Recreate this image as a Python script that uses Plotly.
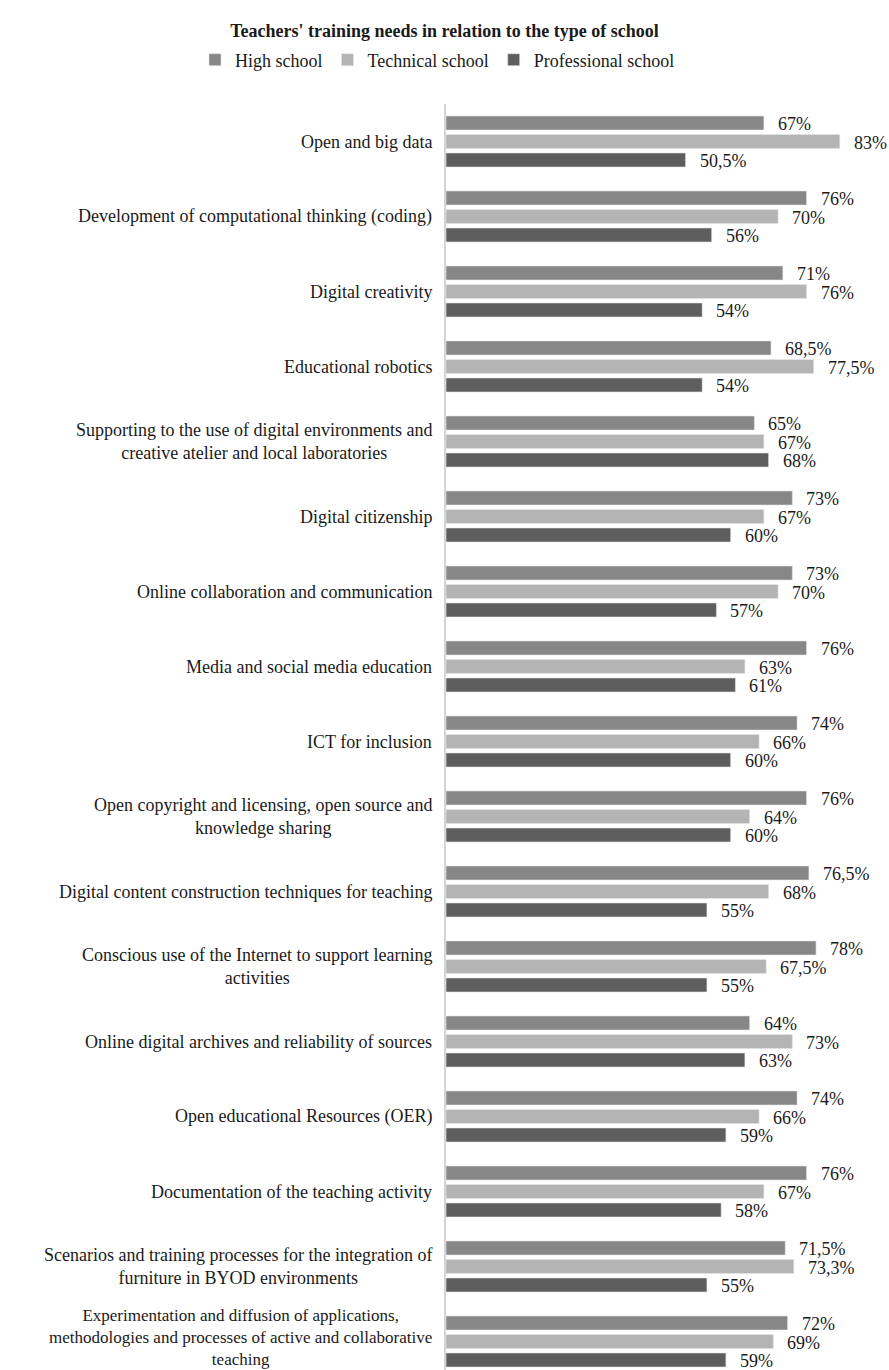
import plotly.graph_objects as go

# Training topics (top to bottom)
categories = [
    "Open and big data",
    "Development of computational thinking (coding)",
    "Digital creativity",
    "Educational robotics",
    "Supporting to the use of digital environments and<br>creative atelier and local laboratories",
    "Digital citizenship",
    "Online collaboration and communication",
    "Media and social media education",
    "ICT for inclusion",
    "Open copyright and licensing, open source and<br>knowledge sharing",
    "Digital content construction techniques for teaching",
    "Conscious use of the Internet to support learning<br>activities",
    "Online digital archives and reliability of sources",
    "Open educational Resources (OER)",
    "Documentation of the teaching activity",
    "Scenarios and training processes for the integration of<br>furniture in BYOD environments",
    "Experimentation and diffusion of applications,<br>methodologies and processes of active and collaborative<br>teaching",
]

high_school = [67, 76, 71, 68.5, 65, 73, 73, 76, 74, 76, 76.5, 78, 64, 74, 76, 71.5, 72]
technical_school = [83, 70, 76, 77.5, 67, 67, 70, 63, 66, 64, 68, 67.5, 73, 66, 67, 73.3, 69]
professional_school = [50.5, 56, 54, 54, 68, 60, 57, 61, 60, 60, 55, 55, 63, 59, 58, 55, 59]

series_names = ["High school", "Technical school", "Professional school"]
series_values = [high_school, technical_school, professional_school]
series_colors = ["#878787", "#b4b4b4", "#5e5e5e"]

FONT = "Liberation Serif"
TEXT = "#1a1a1a"

W, H = 889, 1370
M_L, M_R, M_T, M_B = 446, 16, 104, 0
PLOT_W = W - M_L - M_R
PLOT_H = H - M_T - M_B


def pct(v):
    return f"{v:g}".replace(".", ",") + "%"


fig = go.Figure()
for name, vals, col in zip(series_names, series_values, series_colors):
    fig.add_trace(go.Bar(
        y=categories, x=vals, name=name, orientation="h",
        marker=dict(color=col, line=dict(color="#e6e6e6", width=0.6)),
        hoverinfo="x+name",
    ))

annotations = []
# value labels beside each bar
offsets = [18.5, 0, -18.5]
for vals, dy in zip(series_values, offsets):
    for cat, v in zip(categories, vals):
        annotations.append(dict(
            x=v, y=cat, xref="x", yref="y", text=pct(v), showarrow=False,
            xanchor="left", yanchor="middle", xshift=12, yshift=dy - 1,
            font=dict(family=FONT, size=18, color=TEXT),
        ))

# category labels, centred line by line
for cat in categories:
    n_lines = cat.count("<br>") + 1
    size = 17 if n_lines > 2 else 18
    annotations.append(dict(
        x=0, y=cat, xref="paper", yref="y", text=cat, showarrow=False,
        xanchor="right", yanchor="middle", xshift=-12, align="center",
        yshift=4 if n_lines > 2 else 0,
        font=dict(family=FONT, size=size, color=TEXT),
    ))

fig.update_layout(
    width=W, height=H,
    margin=dict(l=M_L, r=M_R, t=M_T, b=M_B),
    paper_bgcolor="white", plot_bgcolor="white",
    font=dict(family=FONT, color=TEXT),
    barmode="group", bargap=0.26, bargroupgap=0.24,
    title=dict(
        text="<b>Teachers' training needs in relation to the type of school</b>",
        x=0.5, xanchor="center", y=1 - 31 / H, yanchor="middle",
        font=dict(family=FONT, size=18, color=TEXT),
    ),
    legend=dict(
        orientation="h", xref="paper", yref="paper",
        x=(195 - M_L) / PLOT_W, xanchor="left",
        y=1 + (M_T - 60) / PLOT_H, yanchor="middle",
        font=dict(family=FONT, size=18, color=TEXT),
        itemwidth=30, traceorder="normal",
    ),
    xaxis=dict(range=[0, 90], visible=False, showgrid=False, zeroline=False),
    yaxis=dict(
        type="category", range=[16.38, -0.5], showticklabels=False,
        showgrid=False, zeroline=False, showline=True, linecolor="#d4d4d4",
        linewidth=1.5, ticks="",
    ),
    annotations=annotations,
    showlegend=True,
)

fig.write_html("out.html")
